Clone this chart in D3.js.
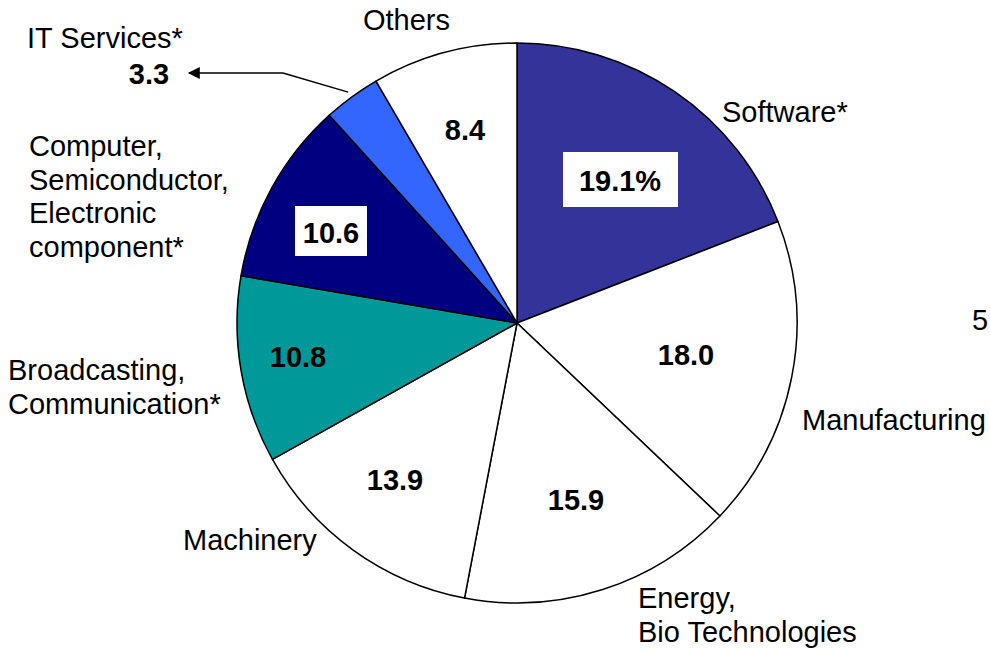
<!DOCTYPE html>
<html><head><meta charset="utf-8">
<script src="https://cdn.jsdelivr.net/npm/d3@7"></script>
<style>body{margin:0;background:#fff}svg{display:block}text{font-family:"Liberation Sans",Arial,sans-serif}</style>
</head><body><svg id="c" width="990" height="648"></svg>
<script>
const categories = ["Software*","Manufacturing","Energy, Bio Technologies","Machinery","Broadcasting, Communication*","Computer, Semiconductor, Electronic component*","IT Services*","Others"];
const values = [19.1,18.0,15.9,13.9,10.8,10.6,3.3,8.4];
const valueLabels = ["19.1%","18.0","15.9","13.9","10.8","10.6","3.3","8.4"];
const colors = ["#333399","#ffffff","#ffffff","#ffffff","#009999","#000080","#3366ff","#ffffff"];

// layout (not data)
const cx = 517, cy = 323, R = 280, FS = 29;
const catLabelLayout = [
  {lines:["Software*"], x:722, y:122},
  {lines:["Manufacturing"], x:802, y:430},
  {lines:["Energy,","Bio Technologies"], x:638, y:608},
  {lines:["Machinery"], x:183, y:550},
  {lines:["Broadcasting,","Communication*"], x:8, y:380},
  {lines:["Computer,","Semiconductor,","Electronic","component*"], x:29, y:156},
  {lines:["IT Services*"], x:27, y:48},
  {lines:["Others"], x:363, y:30}
];
const valLayout = [
  {x:620,y:191,box:[563,152,115,55]},
  {x:686,y:365},
  {x:576,y:510},
  {x:395,y:490},
  {x:298,y:367},
  {x:331,y:243,box:[295,206,72,50]},
  {x:149,y:84},
  {x:465,y:140}
];

const svg = d3.select("#c");
const defs = svg.append("defs");
defs.append("marker").attr("id","arr").attr("viewBox","0 0 10 10").attr("refX",9).attr("refY",5)
  .attr("markerWidth",16).attr("markerHeight",12).attr("markerUnits","userSpaceOnUse").attr("orient","auto")
  .append("path").attr("d","M0,0L10,5L0,10Z").attr("fill","#000");

const pie = d3.pie().sort(null).value(d=>d);
const arcs = pie(values);
const arc = d3.arc().innerRadius(0).outerRadius(R);
const g = svg.append("g").attr("transform",`translate(${cx},${cy})`);
g.selectAll("path").data(arcs).join("path")
  .attr("d",arc).attr("fill",(d,i)=>colors[i]).attr("stroke","#000").attr("stroke-width",1.5).attr("stroke-linejoin","round");

// value boxes and labels
valLayout.forEach((p,i)=>{
  if(p.box){
    svg.append("rect").attr("x",p.box[0]).attr("y",p.box[1]).attr("width",p.box[2]).attr("height",p.box[3]).attr("fill","#fff");
  }
});
svg.selectAll("text.val").data(valueLabels).join("text").attr("class","val")
  .attr("x",(d,i)=>valLayout[i].x).attr("y",(d,i)=>valLayout[i].y)
  .attr("text-anchor","middle").attr("font-size",FS).attr("font-weight","bold").attr("fill","#000")
  .text(d=>d);

// category labels
catLabelLayout.forEach((p,i)=>{
  const t = svg.append("text").attr("x",p.x).attr("y",p.y).attr("font-size",FS).attr("fill","#000");
  p.lines.forEach((ln,j)=>t.append("tspan").attr("x",p.x).attr("dy",j===0?0:33.5).text(ln));
});

// leader line for IT Services
const it = arcs[6];
const lead = d3.arc().innerRadius(R+6).outerRadius(R+6).centroid(it);
svg.append("path").attr("d",`M${cx+lead[0]},${cy+lead[1]}L283,73L189,73`)
  .attr("fill","none").attr("stroke","#000").attr("stroke-width",1.5).attr("marker-end","url(#arr)");

// partially visible text at right edge
svg.append("text").attr("x",972).attr("y",330).attr("font-size",FS).text("5");
</script></body></html>
